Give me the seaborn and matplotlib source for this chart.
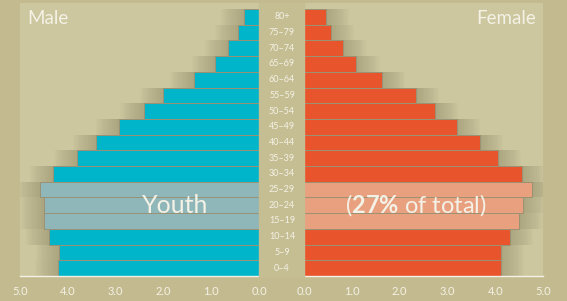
import numpy as np
import pandas as pd
import matplotlib.pyplot as plt
import seaborn as sns
from matplotlib.patches import Rectangle

# --- dados (% da população) ---
idades = ["80+", "75-79", "70-74", "65-69", "60-64", "55-59", "50-54", "45-49",
          "40-44", "35-39", "30-34", "25-29", "20-24", "15-19", "10-14", "5-9", "0-4"]
homens = [0.31, 0.44, 0.65, 0.92, 1.37, 2.00, 2.41, 2.93,
          3.41, 3.80, 4.31, 4.58, 4.50, 4.50, 4.39, 4.18, 4.20]
mulheres = [0.46, 0.56, 0.82, 1.09, 1.63, 2.34, 2.74, 3.20,
            3.68, 4.06, 4.56, 4.77, 4.58, 4.50, 4.31, 4.12, 4.12]
jovens = ["25-29", "20-24", "15-19"]
ticks_x = [0, 1, 2, 3, 4, 5]

# cores
AZUL, AZUL_J = "#00B5C9", "#8FB6B8"
VERM, VERM_J = "#E8542C", "#E8A07F"
FUNDO, PAINEL, FAIXA = "#C3BB8F", "#CCC79E", "#C5BE93"
TEXTO = "#F4F1E6"

sns.set_theme(style="white")
plt.rcParams["font.family"] = ["Lato", "DejaVu Sans"]
plt.rcParams["mathtext.fontset"] = "custom"
plt.rcParams["mathtext.bf"] = "Lato:bold"
plt.rcParams["mathtext.rm"] = "Lato"

df = pd.DataFrame({"idade": idades, "homens": homens, "mulheres": mulheres})
pal_h = {a: (AZUL_J if a in jovens else AZUL) for a in idades}
pal_m = {a: (VERM_J if a in jovens else VERM) for a in idades}

W, H = 567, 301
fig = plt.figure(figsize=(W / 100, H / 100), dpi=100, facecolor=FUNDO)

# faixa central com os rótulos de idade
fig.patches.append(Rectangle((259 / W, 1 - 277 / H), 45 / W, 274 / H,
                             transform=fig.transFigure, color=FAIXA, zorder=0))

ax_h = fig.add_axes([20 / W, 1 - 276 / H, 239 / W, 273 / H])
ax_m = fig.add_axes([304 / W, 1 - 276 / H, 239 / W, 273 / H])

for ax, col, pal in [(ax_h, "homens", pal_h), (ax_m, "mulheres", pal_m)]:
    ax.set_facecolor(PAINEL)
    # sombra suave atrás das barras
    for k in range(1, 15):
        sombra = df[col] + 0.035 * k
        sns.barplot(x=sombra, y=df["idade"], order=idades, color="#6a6244",
                    saturation=1, alpha=0.025, width=1.0, linewidth=0, ax=ax)
    sns.barplot(data=df, x=col, y="idade", hue="idade", order=idades, palette=pal,
                saturation=1, legend=False, width=1.0, edgecolor="#9A9274",
                linewidth=0.7, ax=ax)
    ax.set_ylim(16.5, -0.88)
    ax.set_xticks(ticks_x)
    ax.set_xticklabels([f"{t:.1f}" for t in ticks_x], color=TEXTO, fontsize=8)
    ax.set_yticks([])
    ax.set_xlabel("")
    ax.set_ylabel("")
    for s in ["top", "left", "right"]:
        ax.spines[s].set_visible(False)
    ax.spines["bottom"].set_color(TEXTO)
    ax.spines["bottom"].set_linewidth(1.0)
    ax.tick_params(axis="x", colors=TEXTO, length=4, width=1.0, direction="out", pad=3)

ax_h.set_xlim(5, 0)
ax_m.set_xlim(0, 5)

# rótulos das faixas etárias
for i, a in enumerate(idades):
    y = 1 - (9 + 15.7 * (i + 0.5)) / H
    fig.text(282 / W, y, a.replace("-", "–"), ha="center", va="center",
             color=TEXTO, fontsize=6.5)

fig.text(27 / W, 1 - 18 / H, "Male", color=TEXTO, fontsize=13.5,
         ha="left", va="center")
fig.text(536 / W, 1 - 18 / H, "Female", color=TEXTO, fontsize=13.5,
         ha="right", va="center")

ax_h.text(1.75, 12, "Youth", color=TEXTO, fontsize=18, ha="center", va="center")
ax_m.text(2.33, 12, r"($\mathbf{27\%}$ of total)", color=TEXTO, fontsize=17,
          ha="center", va="center")

fig.savefig("out.png", dpi=100, facecolor=FUNDO)
